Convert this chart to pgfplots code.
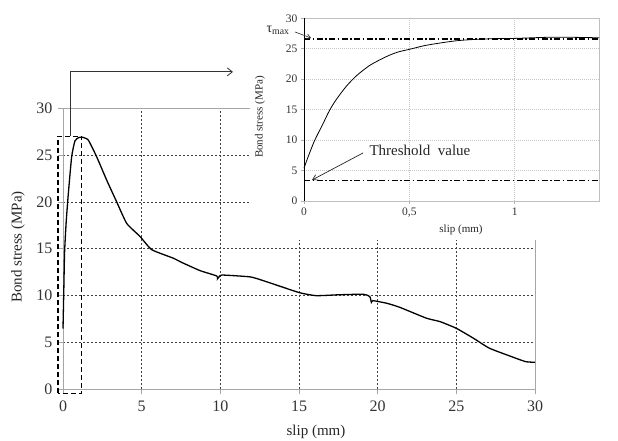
\documentclass[border=0pt]{standalone}
\usepackage{fontspec}
\setmainfont{Liberation Serif}
\usepackage{pgfplots}
\pgfplotsset{compat=1.18}
\usetikzlibrary{arrows.meta}

\begin{document}
\begin{tikzpicture}[x=1pt,y=1pt]
\useasboundingbox (0,0) rectangle (618,441);

% full pull-out curve
\begin{axis}[
  at={(63pt,51.5pt)}, anchor=south west,
  scale only axis, width=472pt, height=281.5pt,
  xmin=0, xmax=30, ymin=0, ymax=30,
  xtick={0,5,...,30}, ytick={0,5,...,30},
  axis line style={draw=gray!70, line width=0.6pt},
  tick align=outside, tick pos=left,
  major tick length=5pt,
  tick style={draw=gray!70, line width=0.6pt},
  grid=major,
  major grid style={draw=black!75, line width=0.5pt, dash pattern=on 2pt off 2pt},
  /pgf/number format/assume math mode=true,
  tick label style={font=\fontsize{16}{18}\selectfont, text=black!80},
  yticklabel style={xshift=-2pt},
  xticklabel style={yshift=-3pt},
  clip=false,
]
\addplot[black, line width=1.3pt, smooth, tension=0.3] coordinates {
  (0.0,6.5) (0.05,10.5) (0.1,14.6) (0.2,17.8) (0.34,20.9) (0.55,24.8)
  (0.76,26.5) (1.0,26.85) (1.19,26.9) (1.6,26.6) (2.14,24.8) (2.78,22.3)
  (3.41,20.0) (4.05,17.7) (4.9,16.3) (5.64,14.9) (7.0,14.0) (7.6,13.5)
  (8.71,12.67) (9.77,12.1) (9.82,11.8) (9.9,11.95) (10.09,12.2) (11.9,12.0)
  (12.73,11.6) (13.8,11.0) (15.07,10.3) (16.1,10.0) (17.6,10.1) (19.1,10.15)
  (19.5,9.9) (19.6,9.3) (19.7,9.47) (20.58,9.19) (21.4,8.76) (23.1,7.6)
  (23.97,7.23) (25.0,6.52) (26.1,5.45) (27.1,4.4) (28.4,3.57) (29.4,2.97)
  (30,2.9)
};
% zoomed region
\draw[black, line width=1.2pt, dash pattern=on 5pt off 3pt]
  (axis cs:-0.32,-0.4) rectangle (axis cs:1.2,27.0);
\draw[gray!40!black, line width=0.8pt, -{Straight Barb[length=5pt,width=8pt]}]
  (axis cs:0.45,27.0) -- (axis cs:0.45,33.85) -- (axis cs:10.8,33.85);
\end{axis}

% background of the detail view
\fill[white] (250,201) rectangle (618,441);

% detail of the ascending branch
\begin{axis}[
  at={(304pt,240pt)}, anchor=south west,
  scale only axis, width=295pt, height=182.7pt,
  xmin=0, xmax=1.4, ymin=0, ymax=30,
  xtick={0,0.5,1}, xticklabels={0,{0,5},1},
  ytick={0,5,...,30},
  axis line style={draw=gray!50, line width=0.5pt},
  tick align=outside, tick pos=left,
  major tick length=3pt,
  tick style={draw=gray!60, line width=0.5pt},
  grid=major,
  major grid style={draw=gray!45, line width=0.5pt, dash pattern=on 1pt off 1pt},
  /pgf/number format/assume math mode=true,
  tick label style={font=\fontsize{11.5}{13}\selectfont, text=black!80},
  clip=false,
]
\draw[black, line width=0.8pt] (axis cs:0,0) -- (axis cs:0,30);
\addplot[black, line width=0.8pt, smooth, tension=0.5] coordinates {
  (0.0,5.4) (0.02,7.3) (0.05,9.9) (0.089,12.6) (0.12,14.8) (0.152,16.6)
  (0.2,18.8) (0.25,20.6) (0.309,22.2) (0.35,23.0) (0.403,23.9) (0.45,24.5)
  (0.5,24.9) (0.57,25.5) (0.638,25.9) (0.72,26.3) (0.795,26.5) (0.9,26.65)
  (1.0,26.7) (1.19,26.9) (1.4,26.8)
};
\addplot[black, line width=1.2pt, dash pattern=on 6pt off 2.5pt on 1.5pt off 2.5pt]
  coordinates {(0,26.6) (1.4,26.6)};
\addplot[black, line width=1.2pt, dash pattern=on 6pt off 2.5pt on 1.5pt off 2.5pt]
  coordinates {(0,3.4) (1.4,3.4)};
\end{axis}

% annotations of the detail view
\node[font=\fontsize{14}{16}\selectfont, text=black!85] at (278,411) {τ\textsubscript{max}};
\draw[black!85, line width=0.6pt, -{Straight Barb[length=4pt,width=5pt]}] (295,409) -- (311,403);
\node[font=\fontsize{15}{17}\selectfont, anchor=west, text=black!85] at (366,291) {Threshold\ \ value};
\draw[black!85, line width=0.7pt, -{Straight Barb[length=5pt,width=6pt]}] (363,288) -- (312,261);
\node[font=\fontsize{11}{13}\selectfont, text=black!85] at (461,211) {slip (mm)};
\node[font=\fontsize{11}{13}\selectfont, rotate=90, text=black!85] at (260,324) {Bond stress (MPa)};

% axis titles of the full curve
\node[font=\fontsize{15}{17}\selectfont, text=black!85] at (316,9) {slip (mm)};
\node[font=\fontsize{15}{17}\selectfont, rotate=90, text=black!85] at (18,194) {Bond stress (MPa)};
\end{tikzpicture}
\end{document}
